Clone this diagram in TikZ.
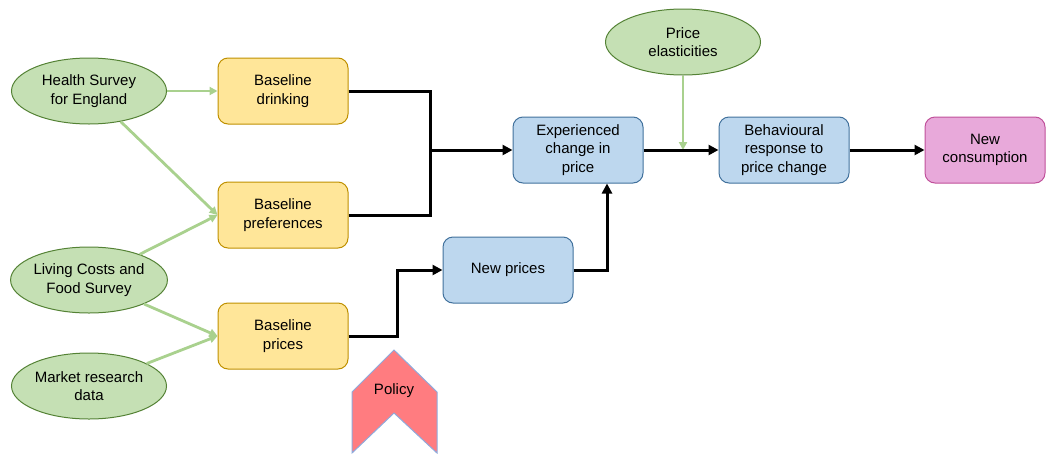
\documentclass[tikz,border=0pt]{standalone}
\usepackage{fontspec}
\setmainfont{Liberation Sans}
\usetikzlibrary{arrows.meta, positioning, shapes.geometric}
\definecolor{SourceFill}{HTML}{C5E0B4}
\definecolor{SourceLine}{HTML}{548235}
\definecolor{SourceArrow}{HTML}{A9D18E}
\definecolor{BaseFill}{HTML}{FFE699}
\definecolor{BaseLine}{HTML}{BF9000}
\definecolor{ModelFill}{HTML}{BDD7EE}
\definecolor{ModelLine}{HTML}{41719C}
\definecolor{OutFill}{HTML}{E8A9DA}
\definecolor{OutLine}{HTML}{C0509A}
\definecolor{PolicyFill}{HTML}{FF7C80}
\definecolor{PolicyLine}{HTML}{8FAADC}

\begin{document}
\begin{tikzpicture}[
            x=1pt, y=-1pt,
            font=\fontsize{15}{18.5}\selectfont,
            >={Triangle[length=10pt,width=10pt]},
            source/.style = {ellipse, draw=SourceLine, fill=SourceFill, line width=1pt, minimum width=155pt, minimum height=66pt, inner sep=0pt, align=center},
            baseline/.style = {rectangle, draw=BaseLine, fill=BaseFill, line width=1pt, rounded corners=10pt, minimum width=130pt, minimum height=66pt, align=center},
            model/.style = {rectangle, draw=ModelLine, fill=ModelFill, line width=1pt, rounded corners=10pt, minimum width=130pt, minimum height=66pt, align=center},
            output/.style = {rectangle, draw=OutLine, fill=OutFill, line width=1pt, rounded corners=10pt, minimum width=120pt, minimum height=66pt, align=center},
            feed/.style = {draw=SourceArrow, line width=2.8pt, -{Triangle[length=8pt,width=8pt]}},
            flow/.style = {draw=black, line width=3pt}
        ]
            \useasboundingbox (0,0) rectangle (1046,453);

            % data sources
            \node [source] (hse) at (89,91) {Health Survey\\for England};
            \node [source] (lcf) at (89,280) {Living Costs and\\Food Survey};
            \node [source] (mrd) at (89,386) {Market research\\data};
            \node [source] (elast) at (683,42) {Price\\elasticities};

            % baseline data
            \node [baseline] (drink) at (283,91) {Baseline\\drinking};
            \node [baseline] (pref) at (283,215) {Baseline\\preferences};
            \node [baseline] (bprice) at (283,336) {Baseline\\prices};

            % model steps
            \node [model] (newprice) at (508,270) {New prices};
            \node [model] (change) at (578,150) {Experienced\\change in\\price};
            \node [model] (resp) at (784,150) {Behavioural\\response to\\price change};
            \node [output] (cons) at (985,150) {New\\consumption};

            % policy chevron
            \draw [fill=PolicyFill, draw=PolicyLine, line width=1pt]
                (352,392) -- (394,350) -- (437,392) -- (437,453) -- (394,413) -- (352,453) -- cycle;
            \node (policy) at (394,391) {Policy};

            \coordinate (join) at (430,150);
            \coordinate (pricebend) at (397,270);
            \coordinate (elastin) at (683,150);

            \draw [feed] (hse) -- (drink);
            \draw [feed] (hse) -- (pref.west);
            \draw [feed] (lcf) -- (pref.west);
            \draw [feed] (lcf) -- (bprice.west);
            \draw [feed] (mrd) -- (bprice.west);
            \draw [feed] (elast) -- (elastin);

            \draw [flow] (drink.east) -| (join);
            \draw [flow] (pref.east) -| (join);
            \draw [flow, ->] (join) -- (change);
            \draw [flow, ->] (bprice.east) -| (pricebend) -- (newprice);
            \draw [flow, ->] (newprice.east) -| (change.south -| 607,0);
            \draw [flow, ->] (change) -- (resp);
            \draw [flow, ->] (resp) -- (cons);
        \end{tikzpicture}
\end{document}
